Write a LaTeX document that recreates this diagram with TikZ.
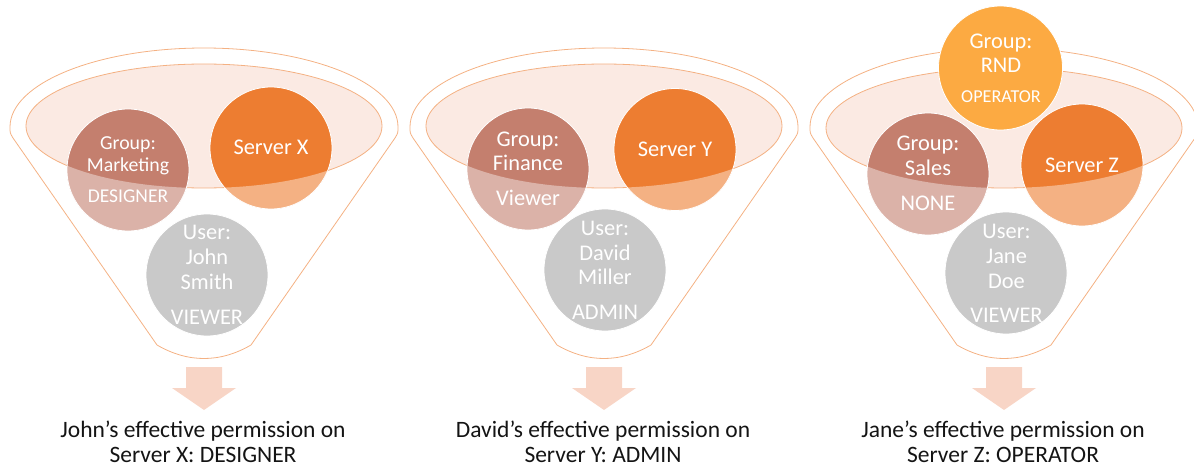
\documentclass[tikz,border=0pt]{standalone}
\usepackage{fontspec}
\setmainfont{Carlito}
\definecolor{grp}{RGB}{196,127,110}
\definecolor{srv}{RGB}{237,125,49}
\definecolor{rnd}{RGB}{252,170,66}
\definecolor{usr}{RGB}{201,201,201}
\definecolor{rim}{RGB}{244,177,131}
\definecolor{rimfill}{RGB}{251,234,227}
\definecolor{arrowc}{RGB}{248,213,198}
\definecolor{btxt}{RGB}{20,20,20}
\newcommand\shadebelow[4]{%
  \begin{scope}
    \clip (#1.center) circle[radius=61];
    \fill[white, opacity=0.4] (#2-178,#3) arc[start angle=180, end angle=0, x radius=178, y radius=#4]
      -- (#2+178,420) -- (#2-178,420) -- cycle;
  \end{scope}}
\begin{document}
\begin{tikzpicture}[x=1pt,y=-1pt,
  funnel/.style={draw=rim, line width=0.8pt},
  rimell/.style={draw=rim, fill=rimfill, line width=0.8pt},
  circ/.style={circle, minimum size=122, inner sep=0pt, draw=white, line width=0.8pt},
  ctext/.style={text=white, align=center, anchor=base, inner sep=0pt, font=\fontsize{22.4}{24.5}\selectfont},
  btext/.style={text=btxt, align=center, anchor=base, inner sep=0pt, font=\fontsize{23.5}{25.4}\selectfont},
  blockarrow/.style={fill=arrowc, draw=none}]
\useasboundingbox (0,0) rectangle (1194,468);

% funnels
\foreach \c/\ey/\ery in {204/126/62, 604/126/62, 1004/128/60} {
  \draw[funnel] (\c-47,345) -- (\c-191,138) .. controls (\c-194,133) .. (\c-194,127)
    arc[start angle=180, end angle=360, x radius=194, y radius=79]
    .. controls (\c+194,133) .. (\c+191,138) -- (\c+47,345)
    .. controls (\c+16,363) and (\c-16,363) .. cycle;
  \draw[rimell] (\c,\ey) ellipse[x radius=178, y radius=\ery];
  \fill[blockarrow] (\c-18,367) -- (\c+18,367) -- (\c+18,388) -- (\c+32,388) -- (\c,410)
    -- (\c-32,388) -- (\c-18,388) -- cycle;
}

% panel 1
\node[circ, fill=grp] (g1) at (128,170) {};
\shadebelow{g1}{204}{126}{62}
\node[circ, fill=srv] (s1) at (271,148) {};
\shadebelow{s1}{204}{126}{62}
\node[circ, fill=usr] (u1) at (207,275) {};
\node[ctext, font=\fontsize{19.8}{21.7}\selectfont] (g1t) at (128,171.2) {Group:\\Marketing};
\node[ctext, font=\fontsize{19.5}{21}\selectfont] (g1p) at (128,202) {DESIGNER};
\node[ctext] (s1t) at (271,154.5) {Server X};
\node[ctext, font=\fontsize{22.4}{25}\selectfont] (u1t) at (207,289) {User:\\John\\Smith};
\node[ctext] (u1p) at (207,324) {VIEWER};

% panel 2
\node[circ, fill=grp] (g2) at (528,169) {};
\shadebelow{g2}{604}{126}{62}
\node[circ, fill=srv] (s2) at (675,149.5) {};
\shadebelow{s2}{604}{126}{62}
\node[circ, fill=usr] (u2) at (605,270) {};
\node[ctext] (g2t) at (528,170.5) {Group:\\Finance};
\node[ctext] (g2p) at (528,205.5) {Viewer};
\node[ctext] (s2t) at (675,156.5) {Server Y};
\node[ctext] (u2t) at (605,284.5) {User:\\David\\Miller};
\node[ctext] (u2p) at (605,319.5) {ADMIN};

% panel 3
\node[circ, fill=rnd, minimum size=124] (r3) at (1000.5,68) {};
\node[circ, fill=grp] (g3) at (928,174) {};
\shadebelow{g3}{1004}{128}{60}
\node[circ, fill=srv] (s3) at (1082,165) {};
\shadebelow{s3}{1004}{128}{60}
\node[circ, fill=usr] (u3) at (1006,273) {};
\node[ctext, font=\fontsize{22.4}{23.3}\selectfont] (r3t) at (1001,72.3) {Group:\\RND};
\node[ctext, font=\fontsize{18.2}{20}\selectfont] (r3p) at (1001,102.6) {OPERATOR};
\node[ctext] (g3t) at (928,175.3) {Group:\\Sales};
\node[ctext] (g3p) at (928,210.3) {NONE};
\node[ctext] (s3t) at (1082,172) {Server Z};
\node[ctext, font=\fontsize{22.4}{25}\selectfont] (u3t) at (1006.5,288) {User:\\Jane\\Doe};
\node[ctext] (u3p) at (1006.5,322) {VIEWER};

% bottom texts
\node[btext] (t1) at (203,462.7) {John’s effective permission on\\Server X: DESIGNER};
\node[btext] (t2) at (603,462.7) {David’s effective permission on\\Server Y: ADMIN};
\node[btext] (t3) at (1003,462.7) {Jane’s effective permission on\\Server Z: OPERATOR};
\end{tikzpicture}
\end{document}
